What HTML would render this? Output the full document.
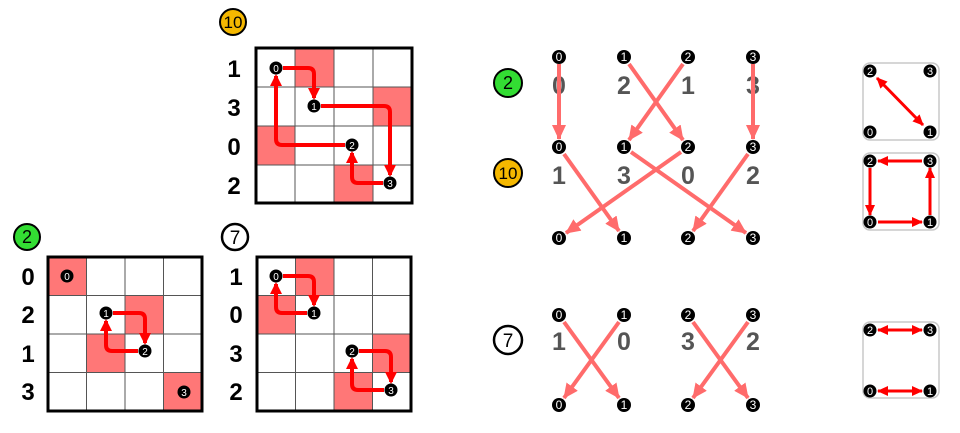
<!DOCTYPE html>
<html><head><meta charset="utf-8"><style>
html,body{margin:0;padding:0;background:#fff;}
svg{display:block;font-family:"Liberation Sans",Arial,sans-serif;}
</style></head><body>
<svg width="960" height="433" viewBox="0 0 960 433" xmlns="http://www.w3.org/2000/svg">
<defs>
<marker id="ar" markerUnits="userSpaceOnUse" markerWidth="14" markerHeight="14" refX="10" refY="6" orient="auto"><path d="M0,0 L12,6 L0,12 z" fill="#ff0000"/></marker>
<marker id="as" markerUnits="userSpaceOnUse" markerWidth="20" markerHeight="20" refX="14" refY="7" orient="auto"><path d="M0,0 L15,7 L0,14 z" fill="#ff6b6b"/></marker>
<marker id="bs" markerUnits="userSpaceOnUse" markerWidth="12" markerHeight="12" refX="10" refY="5" orient="auto-start-reverse"><path d="M0,0 L11,5 L0,10 z" fill="#ff0000"/></marker>
</defs>

<!-- Top grid (10) -->
<circle cx="233" cy="22" r="13" fill="#f5b800" stroke="#000" stroke-width="2"/>
<text x="233" y="28" font-size="17" text-anchor="middle">10</text>
<g fill="#f77">
<rect x="295" y="48" width="39" height="39"/><rect x="373" y="87" width="39" height="39"/>
<rect x="256" y="126" width="39" height="39"/><rect x="334" y="165" width="39" height="38"/>
</g>
<g stroke="#555" stroke-width="1"><path d="M295 48V203M334 48V203M373 48V203M256 87H412M256 126H412M256 165H412"/></g>
<rect x="256" y="48" width="156" height="155" fill="none" stroke="#000" stroke-width="3"/>
<g font-size="24" font-weight="bold" text-anchor="middle"><text x="234" y="77">1</text><text x="234" y="116">3</text><text x="234" y="155">0</text><text x="234" y="194">2</text></g>
<g fill="none" stroke="#f00" stroke-width="4" marker-end="url(#ar)">
<path d="M283 68H308Q314 68 314 74V98"/><path d="M321 106H384Q390 106 390 112V175"/>
<path d="M383 183H358Q352 183 352 177V153"/><path d="M345 145H282Q276 145 276 139V76"/>
</g>

<!-- Bottom-left grid (2) -->
<circle cx="27" cy="237" r="13" fill="#33dd33" stroke="#000" stroke-width="2"/>
<text x="27" y="243" font-size="18" text-anchor="middle">2</text>
<g fill="#f77">
<rect x="48" y="257" width="38.5" height="38.5"/><rect x="125" y="295.5" width="38.5" height="38.5"/>
<rect x="86.5" y="334" width="38.5" height="38.5"/><rect x="163.5" y="372.5" width="38.5" height="38.5"/>
</g>
<g stroke="#555"><path d="M86.5 257V411M125 257V411M163.5 257V411M48 295.5H202M48 334H202M48 372.5H202"/></g>
<rect x="48" y="257" width="154" height="154" fill="none" stroke="#000" stroke-width="3"/>
<g font-size="24" font-weight="bold" text-anchor="middle"><text x="28" y="285">0</text><text x="28" y="323">2</text><text x="28" y="362">1</text><text x="28" y="400">3</text></g>
<g fill="none" stroke="#f00" stroke-width="4" marker-end="url(#ar)">
<path d="M113 313H139Q145 313 145 319V343"/><path d="M138 351H112Q106 351 106 345V321"/>
</g>

<!-- Bottom-middle grid (7) -->
<circle cx="235" cy="237" r="13" fill="#fff" stroke="#000" stroke-width="2.5"/>
<text x="235" y="244" font-size="19" text-anchor="middle">7</text>
<g fill="#f77">
<rect x="295.5" y="257" width="38.5" height="38.5"/><rect x="257" y="295.5" width="38.5" height="38.5"/>
<rect x="372.5" y="334" width="38.5" height="38.5"/><rect x="334" y="372.5" width="38.5" height="38.5"/>
</g>
<g stroke="#555"><path d="M295.5 257V411M334 257V411M372.5 257V411M257 295.5H411M257 334H411M257 372.5H411"/></g>
<rect x="257" y="257" width="154" height="154" fill="none" stroke="#000" stroke-width="3"/>
<g font-size="24" font-weight="bold" text-anchor="middle"><text x="236" y="285">1</text><text x="236" y="323">0</text><text x="236" y="362">3</text><text x="236" y="400">2</text></g>
<g fill="none" stroke="#f00" stroke-width="4" marker-end="url(#ar)">
<path d="M283 276H308Q314 276 314 282V305"/><path d="M307 313H282Q276 313 276 307V284"/>
<path d="M359 351H385Q391 351 391 357V382"/><path d="M384 390H358Q352 390 352 384V359"/>
</g>

<!-- grid node markers -->
<g font-size="10" text-anchor="middle">
<g fill="#000"><circle cx="276" cy="68" r="6.5"/><circle cx="314" cy="106" r="6.5"/><circle cx="352" cy="145" r="6.5"/><circle cx="390" cy="183" r="6.5"/>
<circle cx="67" cy="276" r="6.5"/><circle cx="106" cy="313" r="6.5"/><circle cx="145" cy="351" r="6.5"/><circle cx="184" cy="392" r="6.5"/>
<circle cx="276" cy="276" r="6.5"/><circle cx="314" cy="313" r="6.5"/><circle cx="352" cy="351" r="6.5"/><circle cx="391" cy="390" r="6.5"/></g>
<g fill="#fff"><text x="276" y="72">0</text><text x="314" y="110">1</text><text x="352" y="149">2</text><text x="390" y="187">3</text>
<text x="67" y="280">0</text><text x="106" y="317">1</text><text x="145" y="355">2</text><text x="184" y="396">3</text>
<text x="276" y="280">0</text><text x="314" y="317">1</text><text x="352" y="355">2</text><text x="391" y="394">3</text></g>
</g>

<!-- Middle permutation diagram -->
<circle cx="508" cy="83" r="14" fill="#33dd33" stroke="#000" stroke-width="2"/>
<text x="508" y="89" font-size="18" text-anchor="middle">2</text>
<circle cx="508" cy="173" r="14" fill="#f5b800" stroke="#000" stroke-width="2"/>
<text x="508" y="179" font-size="17" text-anchor="middle">10</text>
<circle cx="508" cy="340" r="14" fill="#fff" stroke="#000" stroke-width="2.5"/>
<text x="508" y="347" font-size="19" text-anchor="middle">7</text>

<g font-size="25" font-weight="bold" fill="#555" text-anchor="middle">
<text x="559" y="94">0</text><text x="624" y="94">2</text><text x="688" y="94">1</text><text x="753" y="94">3</text>
<text x="559" y="184">1</text><text x="624" y="184">3</text><text x="688" y="184">0</text><text x="753" y="184">2</text>
<text x="559" y="350">1</text><text x="624" y="350">0</text><text x="688" y="350">3</text><text x="753" y="350">2</text>
</g>
<g stroke="#ff6b6b" stroke-width="4" marker-end="url(#as)" fill="none">
<path d="M559 64L559 139"/><path d="M629 64L683 140"/><path d="M683 64L629 140"/><path d="M753 64L753 139"/>
<path d="M564 154L619 231"/><path d="M631 152L746 233"/><path d="M681 152L566 233"/><path d="M748 154L693 231"/>
<path d="M564 322L619 398"/><path d="M619 322L564 398"/><path d="M693 322L748 398"/><path d="M748 322L693 398"/>
</g>
<g fill="#000">
<circle cx="559" cy="57" r="7"/><circle cx="624" cy="57" r="7"/><circle cx="688" cy="57" r="7"/><circle cx="753" cy="57" r="7"/>
<circle cx="559" cy="147" r="7"/><circle cx="624" cy="147" r="7"/><circle cx="688" cy="147" r="7"/><circle cx="753" cy="147" r="7"/>
<circle cx="559" cy="238" r="7"/><circle cx="624" cy="238" r="7"/><circle cx="688" cy="238" r="7"/><circle cx="753" cy="238" r="7"/>
<circle cx="559" cy="315" r="7"/><circle cx="624" cy="315" r="7"/><circle cx="688" cy="315" r="7"/><circle cx="753" cy="315" r="7"/>
<circle cx="559" cy="405" r="7"/><circle cx="624" cy="405" r="7"/><circle cx="688" cy="405" r="7"/><circle cx="753" cy="405" r="7"/>
</g>
<g fill="#fff" font-size="12" text-anchor="middle">
<text x="559" y="61">0</text><text x="624" y="61">1</text><text x="688" y="61">2</text><text x="753" y="61">3</text>
<text x="559" y="151">0</text><text x="624" y="151">1</text><text x="688" y="151">2</text><text x="753" y="151">3</text>
<text x="559" y="242">0</text><text x="624" y="242">1</text><text x="688" y="242">2</text><text x="753" y="242">3</text>
<text x="559" y="319">0</text><text x="624" y="319">1</text><text x="688" y="319">2</text><text x="753" y="319">3</text>
<text x="559" y="409">0</text><text x="624" y="409">1</text><text x="688" y="409">2</text><text x="753" y="409">3</text>
</g>

<!-- Right boxes -->
<g fill="#fff" stroke="#c8c8c8" stroke-width="1.5">
<rect x="863" y="63" width="76" height="77" rx="7"/>
<rect x="863" y="153" width="76" height="77" rx="7"/>
<rect x="863" y="322" width="76" height="76" rx="7"/>
</g>
<g stroke="#f00" stroke-width="3" fill="none">
<path d="M877 78L923 125" marker-start="url(#bs)" marker-end="url(#bs)"/>
<path d="M922 161L878 161" marker-end="url(#bs)"/><path d="M870 168L870 215" marker-end="url(#bs)"/>
<path d="M878 222L922 222" marker-end="url(#bs)"/><path d="M930 215L930 168" marker-end="url(#bs)"/>
<path d="M878 330L922 330" marker-start="url(#bs)" marker-end="url(#bs)"/>
<path d="M878 391L922 391" marker-start="url(#bs)" marker-end="url(#bs)"/>
</g>
<g fill="#000">
<circle cx="870" cy="71" r="6.5"/><circle cx="930" cy="71" r="6.5"/><circle cx="870" cy="132" r="6.5"/><circle cx="930" cy="132" r="6.5"/>
<circle cx="870" cy="161" r="6.5"/><circle cx="930" cy="161" r="6.5"/><circle cx="870" cy="222" r="6.5"/><circle cx="930" cy="222" r="6.5"/>
<circle cx="870" cy="330" r="6.5"/><circle cx="930" cy="330" r="6.5"/><circle cx="870" cy="391" r="6.5"/><circle cx="930" cy="391" r="6.5"/>
</g>
<g fill="#fff" font-size="11" text-anchor="middle">
<text x="870" y="75">2</text><text x="930" y="75">3</text><text x="870" y="136">0</text><text x="930" y="136">1</text>
<text x="870" y="165">2</text><text x="930" y="165">3</text><text x="870" y="226">0</text><text x="930" y="226">1</text>
<text x="870" y="334">2</text><text x="930" y="334">3</text><text x="870" y="395">0</text><text x="930" y="395">1</text>
</g>
</svg>
</body></html>
